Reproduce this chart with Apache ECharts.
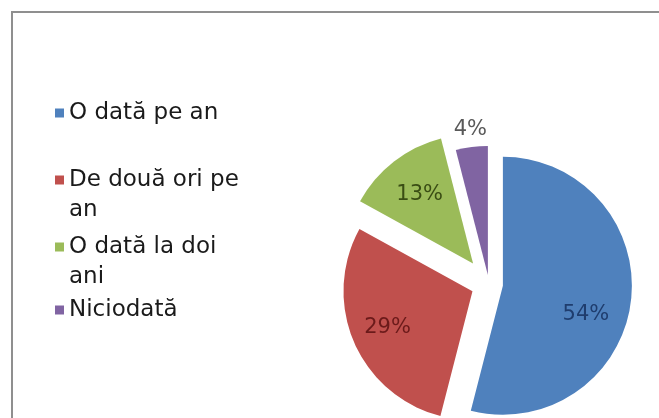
<!DOCTYPE html>
<html>
<head>
<meta charset="utf-8">
<script src="https://cdn.jsdelivr.net/npm/echarts@6/dist/echarts.min.js"></script>
<style>
html,body{margin:0;padding:0;background:#fff;}
#chart{width:659px;height:418px;}
</style>
</head>
<body>
<div id="chart"></div>
<script>
// ---- data ----
const categories = ['O dată pe an', 'De două ori pe an', 'O dată la doi ani', 'Niciodată'];
const values = [54, 29, 13, 4];

// ---- styles ----
const colors = ['#4f81bd', '#c0504d', '#9bbb59', '#8064a2'];
const labelColors = ['#1f3d6e', '#6b1a1a', '#3a4d14', '#595959'];
const explode = [14, 18, 26, 9];
const labelShift = [[16, 20], [-23, 10], [-12, -16], [-9, -79]];
const legendTops = [98, 135, 202, 295];
const legendTwoLine = [false, true, true, false];

const chart = echarts.init(document.getElementById('chart'), null, {renderer: 'canvas'});

// wrapped legend entries: last word goes to a second line; a leading blank line keeps
// the marker level with the first text line (as in the original legend)
function wrapLast(n) {
  return '\n' + n.replace(/ (\S+)$/, '\n$1');
}

const legends = categories.map((name, i) => ({
  data: [{name: name, itemStyle: {color: colors[i]}}],
  orient: 'vertical',
  left: 55,
  top: legendTops[i],
  padding: 0,
  icon: 'rect',
  itemWidth: 9,
  itemHeight: 9,
  selectedMode: false,
  formatter: legendTwoLine[i] ? wrapLast : '{name}',
  textStyle: {
    fontFamily: 'DejaVu Sans',
    fontSize: 23,
    lineHeight: 30,
    color: '#1a1a1a'
  }
}));

// one pie layer per slice so every slice can have its own explosion distance
const series = categories.map((_, k) => ({
  type: 'pie',
  name: 'layer' + k,
  center: [489, 284],
  radius: 129,
  startAngle: 90,
  clockwise: true,
  selectedMode: 'multiple',
  selectedOffset: explode[k],
  avoidLabelOverlap: false,
  emphasis: {disabled: true},
  itemStyle: {borderWidth: 0},
  label: {
    show: true,
    position: 'inside',
    formatter: '{c}%',
    fontFamily: 'DejaVu Sans',
    fontSize: 21
  },
  labelLine: {show: false},
  labelLayout: function (params) {
    const s = labelShift[params.dataIndex];
    return {dx: s[0], dy: s[1]};
  },
  data: categories.map((name, i) => ({
    name: name,
    value: values[i],
    selected: i === k,
    itemStyle: {color: i === k ? colors[i] : 'rgba(0,0,0,0)'},
    label: {show: i === k, color: labelColors[i]}
  }))
}));

const option = {
  animation: false,
  graphic: [{
    type: 'rect',
    silent: true,
    shape: {x: 12, y: 12, width: 760, height: 520},
    style: {fill: 'none', stroke: '#8f8f8f', lineWidth: 2}
  }],
  legend: legends,
  series: series
};

chart.setOption(option);
</script>
</body>
</html>
